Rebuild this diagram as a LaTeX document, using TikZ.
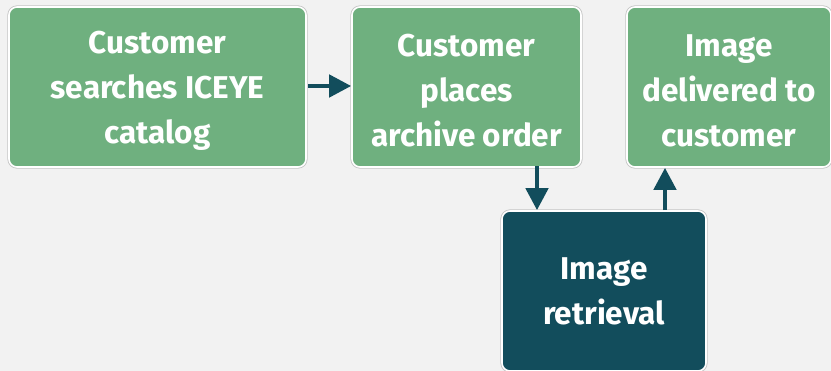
\documentclass[tikz,border=0pt]{standalone}
\usepackage{fontspec}
\setmainfont{Fira Sans}
\usetikzlibrary{arrows.meta}
\definecolor{bg}{HTML}{F2F2F2}
\definecolor{boxgreen}{HTML}{6FB07F}
\definecolor{boxteal}{HTML}{124D5C}
\definecolor{edgegray}{HTML}{C4C4C4}
\begin{document}
\begin{tikzpicture}[x=1pt,y=-1pt,
  card/.style={rounded corners=8pt, draw=white, line width=1.6pt, inner sep=0pt,
    minimum height=160pt, preaction={draw=edgegray, line width=3.2pt}},
  cardtext/.style={text=white, font=\fontsize{31.5}{45}\selectfont\bfseries,
    align=center, inner sep=0pt, yshift=-4pt},
  greencard/.style={card, fill=boxgreen},
  tealcard/.style={card, fill=boxteal},
  flow/.style={draw=boxteal, line width=4.5pt, -{Triangle[length=22pt,width=22pt]}}
]
\useasboundingbox[fill=bg] (0,0) rectangle (831,371);
\node[greencard, minimum width=297pt,
  label={[cardtext]center:Customer\\searches ICEYE\\catalog}] (search) at (157.5,87) {};
\node[greencard, minimum width=229pt,
  label={[cardtext]center:Customer\\places\\archive order}] (order) at (466.5,87) {};
\node[greencard, minimum width=204pt,
  label={[cardtext]center:Image\\delivered to\\customer}] (deliver) at (729,87) {};
\node[tealcard, minimum width=204pt,
  label={[cardtext, yshift=4pt]center:Image\\retrieval}] (retrieve) at (604,291) {};
\draw[flow] ([xshift=1.5pt,yshift=1pt]search.east) -- ([yshift=1pt]order.west);
\draw[flow] ([xshift=70.5pt,yshift=1.5pt]order.south) -- ([xshift=-67pt]retrieve.north);
\draw[flow] ([xshift=61pt]retrieve.north) -- ([xshift=-64pt]deliver.south);
\end{tikzpicture}
\end{document}
